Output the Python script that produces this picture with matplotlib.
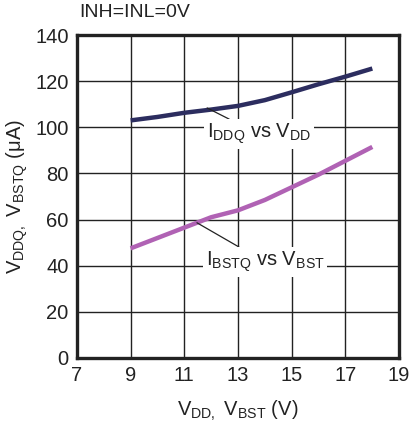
import numpy as np
import matplotlib.pyplot as plt

plt.rcParams['font.family'] = ['Liberation Sans', 'DejaVu Sans']
plt.rcParams['mathtext.default'] = 'regular'

# supply voltage (V)
vsup = [9, 10, 11, 12, 13, 14, 15, 16, 17, 18]
# quiescent currents (uA)
iddq = [103, 104.5, 106.3, 107.7, 109.3, 111.8, 115.2, 118.7, 122, 125.5]
ibstq = [47.5, 52, 56.5, 61, 64, 68.5, 74, 79.5, 85.5, 91.5]

navy = '#2c2d5f'
purple = '#b062b4'

fig = plt.figure(figsize=(4.09, 4.23), dpi=100)
ax = fig.add_axes([0.188, 0.154, 0.788, 0.763])

ax.plot(vsup, iddq, color=navy, lw=3.2, solid_capstyle='butt', zorder=3)
ax.plot(vsup, ibstq, color=purple, lw=3.2, solid_capstyle='butt', zorder=3)

ax.set_xlim(7, 19)
ax.set_ylim(0, 140)
ax.set_xticks(np.arange(7, 20, 2))
ax.set_yticks(np.arange(0, 141, 20))
ax.grid(True, color='#222222', lw=1.0, zorder=1)
ax.set_axisbelow(True)
for s in ax.spines.values():
    s.set_linewidth(2.4)
    s.set_color('#222222')
ax.tick_params(length=0, labelsize=14.5, pad=6, colors='#222222')

box = dict(facecolor='white', edgecolor='none', pad=2)
ax.annotate(r'I$_{DDQ}$ vs V$_{DD}$', xy=(11.85, 108.4), xytext=(13.78, 97.0),
            ha='center', va='center', fontsize=14.5, color='#222222', bbox=box,
            arrowprops=dict(arrowstyle='-', color='#222222', lw=0.9, shrinkA=0, shrinkB=0),
            zorder=4)
ax.annotate(r'I$_{BSTQ}$ vs V$_{BST}$', xy=(11.47, 58.6), xytext=(14.0, 41.6),
            ha='center', va='center', fontsize=14.5, color='#222222', bbox=box,
            arrowprops=dict(arrowstyle='-', color='#222222', lw=0.9, shrinkA=0, shrinkB=0),
            zorder=4)

ax.set_xlabel(r'V$_{DD,}$ V$_{BST}$ (V)', fontsize=14.5, color='#222222', labelpad=10)
ax.set_ylabel(r'V$_{DDQ,}$ V$_{BSTQ}$ (μA)', fontsize=14.5, color='#222222', labelpad=4)
fig.text(0.193, 0.97, 'INH=INL=0V', fontsize=14, color='#222222', va='center')

fig.savefig('out.png', dpi=100)
